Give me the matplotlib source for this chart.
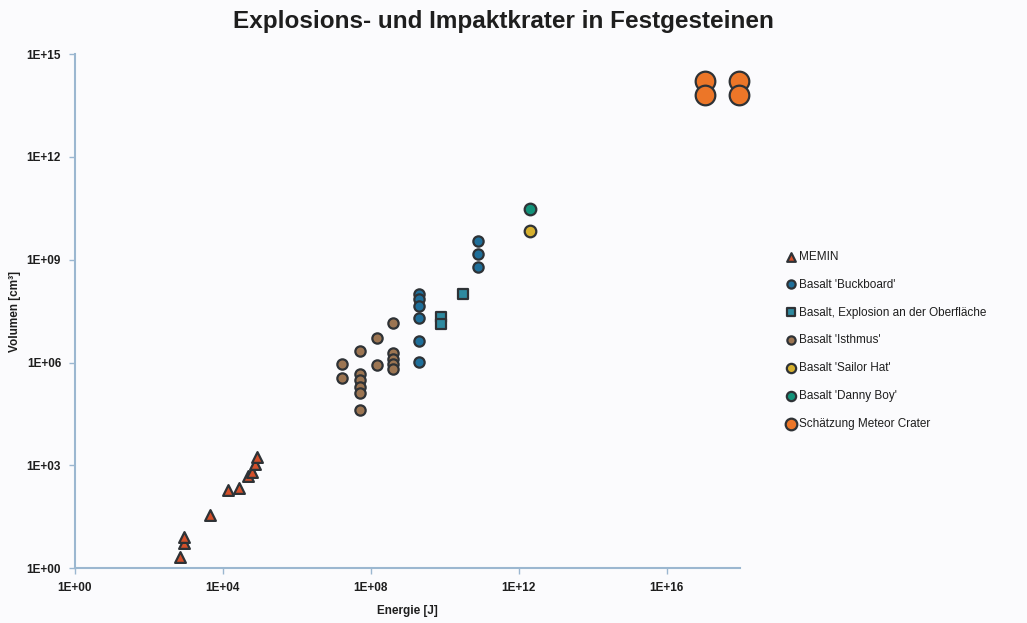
import matplotlib
matplotlib.use('Agg')
import matplotlib.pyplot as plt
from matplotlib.ticker import FixedLocator, NullLocator

# ---------------------------------------------------------------------------
# Data: energy [J] vs. crater volume [cm^3]
# ---------------------------------------------------------------------------
memin_e = [7.0e2, 9.0e2, 9.0e2, 4.5e3, 1.4e4, 2.7e4, 4.8e4, 6.0e4, 7.2e4, 8.3e4]
memin_v = [2.1, 5.4, 8.0, 3.5e1, 1.9e2, 2.2e2, 5.0e2, 6.2e2, 1.1e3, 1.7e3]

buck_e = [2.0e9, 2.0e9, 2.0e9, 2.0e9, 2.0e9, 2.0e9, 8.0e10, 8.0e10, 8.0e10]
buck_v = [1.0e8, 7.0e7, 4.5e7, 2.0e7, 4.3e6, 1.05e6, 3.6e9, 1.45e9, 6.0e8]

surf_e = [3.1e10, 8.0e9, 8.0e9]
surf_v = [1.0e8, 2.2e7, 1.3e7]

isth_e = [1.7e7, 1.7e7, 5.0e7, 5.0e7, 5.0e7, 5.0e7, 5.0e7, 5.0e7,
          1.45e8, 1.45e8, 4.0e8, 4.0e8, 4.0e8, 4.0e8, 4.0e8]
isth_v = [9.1e5, 3.5e5, 2.2e6, 4.7e5, 3.2e5, 2.0e5, 1.3e5, 4.2e4,
          5.2e6, 8.5e5, 1.4e7, 1.9e6, 1.26e6, 8.9e5, 6.5e5]

sailor_e = [2.0e12]
sailor_v = [7.0e9]

danny_e = [2.0e12]
danny_v = [3.0e10]

meteor_e = [1.1e17, 1.1e17, 9.0e17, 9.0e17]
meteor_v = [1.6e14, 6.5e13, 1.6e14, 6.5e13]

x_ticks = [1e0, 1e4, 1e8, 1e12, 1e16]
x_ticklabels = ['1E+00', '1E+04', '1E+08', '1E+12', '1E+16']
y_ticks = [1e0, 1e3, 1e6, 1e9, 1e12, 1e15]
y_ticklabels = ['1E+00', '1E+03', '1E+06', '1E+09', '1E+12', '1E+15']

# ---------------------------------------------------------------------------
# Style
# ---------------------------------------------------------------------------
BG = '#fbfbfd'
SPINE = '#9bb7d0'
EDGE = '#2e3236'
TEXT = '#1e1e1e'
plt.rcParams['font.family'] = ['Liberation Sans', 'DejaVu Sans']

fig = plt.figure(figsize=(10.27, 6.23), dpi=100)
fig.patch.set_facecolor(BG)
ax = fig.add_axes([0.073, 0.088, 0.648, 0.825])
ax.set_facecolor(BG)
ax.set_xscale('log')
ax.set_yscale('log')
ax.set_xlim(1e0, 1e18)
ax.set_ylim(1e0, 1e15)

common = dict(edgecolor=EDGE, linewidths=1.6, clip_on=False, zorder=3)
ax.scatter(memin_e, memin_v, marker='^', s=60, facecolor='#d4502a',
           label='MEMIN', **common)
ax.scatter(buck_e, buck_v, marker='o', s=55, facecolor='#1f6f9a',
           label="Basalt 'Buckboard'", **common)
ax.scatter(surf_e, surf_v, marker='s', s=55, facecolor='#2e8aa0',
           label='Basalt, Explosion an der Oberfläche', **common)
ax.scatter(isth_e, isth_v, marker='o', s=55, facecolor='#9c7552',
           label="Basalt 'Isthmus'", **common)
ax.scatter(sailor_e, sailor_v, marker='o', s=70, facecolor='#d6b02e',
           label="Basalt 'Sailor Hat'", **common)
ax.scatter(danny_e, danny_v, marker='o', s=70, facecolor='#12937a',
           label="Basalt 'Danny Boy'", **common)
ax.scatter(meteor_e, meteor_v, marker='o', s=200, facecolor='#ec7628',
           label='Schätzung Meteor Crater', **common)

# Axes cosmetics
for side in ('top', 'right'):
    ax.spines[side].set_visible(False)
for side in ('left', 'bottom'):
    ax.spines[side].set_color(SPINE)
    ax.spines[side].set_linewidth(1.5)
ax.xaxis.set_major_locator(FixedLocator(x_ticks))
ax.yaxis.set_major_locator(FixedLocator(y_ticks))
ax.xaxis.set_minor_locator(NullLocator())
ax.yaxis.set_minor_locator(NullLocator())
ax.set_xticklabels(x_ticklabels)
ax.set_yticklabels(y_ticklabels)
ax.tick_params(axis='both', which='major', length=4, width=1, color=SPINE,
               labelsize=8.5, labelcolor=TEXT, pad=6)
for lab in ax.get_xticklabels() + ax.get_yticklabels():
    lab.set_fontweight('bold')

ax.set_xlabel('Energie [J]', fontsize=8.5, fontweight='bold', color=TEXT,
              labelpad=8)
ax.set_ylabel('Volumen [cm³]', fontsize=8.5, fontweight='bold', color=TEXT,
              labelpad=4)

fig.text(0.49, 0.965, 'Explosions- und Impaktkrater in Festgesteinen',
         ha='center', va='center', fontsize=17.5, fontweight='bold', color=TEXT)

leg = ax.legend(loc='upper left', bbox_to_anchor=(1.06, 0.627), frameon=False,
                fontsize=8.5, handletextpad=0.2, labelspacing=1.35,
                markerscale=0.8, borderaxespad=0, handlelength=1.0)
for text in leg.get_texts():
    text.set_color(TEXT)
leg.legend_handles[-1].set_sizes([70])

fig.savefig('out.png', dpi=100, facecolor=BG)
